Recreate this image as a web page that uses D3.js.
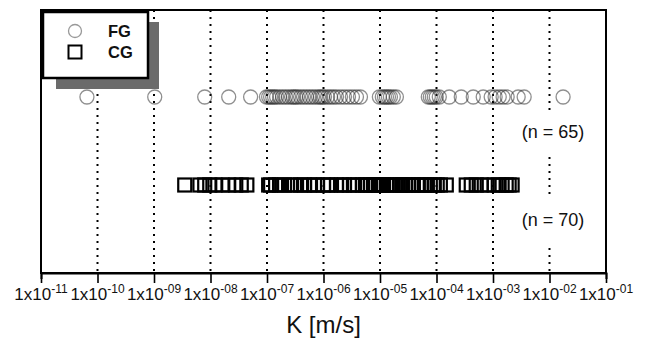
<!DOCTYPE html>
<html>
<head>
<meta charset="utf-8">
<script src="https://cdn.jsdelivr.net/npm/d3@7"></script>
<style>
  body { margin: 0; background: #fff; }
  svg { display: block; font-family: "Liberation Sans", Arial, sans-serif; }
</style>
</head>
<body>
<svg id="chart" width="645" height="347"></svg>
<script>
// Hydraulic conductivity K [m/s] of the two groups
const groups = ["FG", "CG"];
const groupCounts = [65, 70];

const fgValues = [
  6.5e-11, 1.03e-9, 7.9e-9, 2.1e-8, 5.13e-8,
  9.8e-8, 1.07e-7, 1.16e-7, 1.26e-7, 1.36e-7, 1.48e-7, 1.67e-7, 1.89e-7, 2.13e-7, 2.41e-7,
  2.72e-7, 2.95e-7, 3.20e-7, 3.47e-7, 3.93e-7, 4.43e-7, 5.01e-7, 5.66e-7, 6.39e-7, 7.22e-7,
  8.16e-7, 8.86e-7, 9.60e-7, 1.04e-6, 1.18e-6, 1.33e-6, 1.50e-6, 1.70e-6, 2.00e-6, 2.35e-6,
  2.77e-6, 3.25e-6, 3.83e-6, 4.51e-6,
  9.75e-6, 1.10e-5, 1.20e-5, 1.30e-5, 1.41e-5, 1.53e-5, 1.72e-5, 1.95e-5,
  7.16e-5, 7.77e-5, 8.43e-5, 9.14e-5, 9.9e-5, 1.12e-4,
  1.68e-4, 2.74e-4, 4.47e-4, 6.71e-4,
  9.29e-4, 1.09e-3, 1.29e-3, 1.51e-3, 1.78e-3,
  2.79e-3, 3.56e-3, 1.74e-2
];

const cgValues = [
  3.5e-9,
  6.5e-9, 7.9e-9, 9.7e-9, 1.2e-8, 1.6e-8, 2.1e-8, 2.8e-8, 3.5e-8, 4.4e-8,
  1.07e-7, 1.16e-7, 1.42e-7, 1.67e-7, 2.05e-7, 2.61e-7, 3.07e-7, 3.93e-7, 4.62e-7, 5.66e-7,
  6.93e-7, 7.83e-7, 1.0e-6, 1.18e-6, 1.33e-6, 1.70e-6, 2.08e-6, 2.35e-6, 2.88e-6, 3.39e-6,
  3.99e-6, 4.89e-6,
  5.52e-6, 5.99e-6, 6.77e-6, 7.65e-6, 8.29e-6, 9.37e-6, 1.06e-5, 1.15e-5, 1.30e-5, 1.53e-5,
  1.72e-5, 1.95e-5, 2.29e-5, 2.49e-5, 2.81e-5, 3.18e-5, 3.59e-5, 3.89e-5, 4.77e-5, 5.38e-5,
  6.08e-5, 6.61e-5, 7.77e-5, 9.14e-5, 1.03e-4, 1.17e-4, 1.49e-4,
  3.36e-4, 4.12e-4, 5.05e-4, 6.19e-4, 7.90e-4, 1.05e-3, 1.24e-3, 1.45e-3, 1.71e-3, 1.93e-3,
  2.18e-3
];

const decadeValues = [1e-11, 1e-10, 1e-9, 1e-8, 1e-7, 1e-6, 1e-5, 1e-4, 1e-3, 1e-2, 1e-1];
const decadeExponents = ["-11", "-10", "-09", "-08", "-07", "-06", "-05", "-04", "-03", "-02", "-01"];
const axisTitle = "K [m/s]";

const W = 645, H = 347;
const margin = { top: 10, right: 39, bottom: 74, left: 41 };
const plotBottom = H - margin.bottom;

const svg = d3.select("#chart");

const x = d3.scaleLog().domain([1e-11, 1e-1]).range([margin.left, W - margin.right]);
const y = d3.scalePoint().domain(groups).range([97, 185]);

// dotted decade grid lines
svg.append("g")
  .selectAll("line")
  .data(decadeValues.slice(1, -1))
  .join("line")
  .attr("x1", d => x(d)).attr("x2", d => x(d))
  .attr("y1", margin.top).attr("y2", plotBottom)
  .attr("stroke", "#000")
  .attr("stroke-width", 2)
  .attr("stroke-dasharray", "2 5");

// sample count labels on white backing
const nLabels = svg.append("g");
groups.forEach((g, i) => {
  const cy = y(g) + 35;
  nLabels.append("rect")
    .attr("x", 512).attr("y", cy - 22)
    .attr("width", 84).attr("height", 45)
    .attr("fill", "#fff");
  nLabels.append("text")
    .attr("x", 553).attr("y", cy)
    .attr("dy", "0.35em")
    .attr("text-anchor", "middle")
    .attr("font-size", 18)
    .attr("fill", "#111")
    .text(`(n = ${groupCounts[i]})`);
});

// FG: open grey circles
svg.append("g")
  .selectAll("circle")
  .data(fgValues)
  .join("circle")
  .attr("cx", d => x(d))
  .attr("cy", y("FG"))
  .attr("r", 7)
  .attr("fill", "none")
  .attr("stroke", "#333")
  .attr("stroke-opacity", 0.55)
  .attr("stroke-width", 1.3);

// CG: open black squares
const side = 13;
svg.append("g")
  .selectAll("rect")
  .data(cgValues)
  .join("rect")
  .attr("x", d => x(d) - side / 2)
  .attr("y", y("CG") - side / 2)
  .attr("width", side).attr("height", side)
  .attr("fill", "none")
  .attr("stroke", "#000")
  .attr("stroke-width", 2.2);

// legend with drop shadow
const legend = svg.append("g");
legend.append("rect")
  .attr("x", 56).attr("y", 22).attr("width", 103).attr("height", 67)
  .attr("fill", "#6b6b6b");
legend.append("rect")
  .attr("x", 43).attr("y", 12).attr("width", 105).attr("height", 66)
  .attr("fill", "#fff").attr("stroke", "#000").attr("stroke-width", 2.5);
legend.append("circle")
  .attr("cx", 75).attr("cy", 31).attr("r", 6.5)
  .attr("fill", "none").attr("stroke", "#999").attr("stroke-width", 1.3);
legend.append("rect")
  .attr("x", 68.5).attr("y", 45.5).attr("width", 13).attr("height", 13)
  .attr("fill", "none").attr("stroke", "#000").attr("stroke-width", 2);
legend.selectAll("text.lg")
  .data(groups)
  .join("text")
  .attr("class", "lg")
  .attr("x", 108)
  .attr("y", (d, i) => 31 + i * 21)
  .attr("dy", "0.36em")
  .attr("font-size", 16.5)
  .attr("font-weight", "bold")
  .attr("fill", "#111")
  .text(d => d);

// plot frame
svg.append("rect")
  .attr("x", margin.left).attr("y", margin.top)
  .attr("width", W - margin.left - margin.right)
  .attr("height", plotBottom - margin.top)
  .attr("fill", "none").attr("stroke", "#000").attr("stroke-width", 2);

// bottom axis: minor ticks at 2..9, longer ticks at each decade
const allTicks = x.ticks();
const axis = svg.append("g")
  .attr("transform", `translate(0,${plotBottom})`)
  .call(d3.axisBottom(x).tickValues(allTicks).tickSize(6).tickFormat(""));
axis.select(".domain").attr("stroke-width", 2);
axis.selectAll(".tick line")
  .attr("stroke-width", 1.6)
  .attr("y2", d => decadeValues.some(v => Math.abs(Math.log10(v) - Math.log10(d)) < 1e-9) ? 10 : 6);

// decade labels 1x10^n
const labels = svg.append("g")
  .selectAll("text")
  .data(decadeValues)
  .join("text")
  .attr("x", d => x(d))
  .attr("y", 300)
  .attr("text-anchor", "middle")
  .attr("font-size", 17)
  .attr("fill", "#111");
labels.append("tspan").text("1x10");
labels.append("tspan")
  .attr("dy", -7)
  .attr("font-size", 12)
  .text((d, i) => decadeExponents[i]);

svg.append("text")
  .attr("x", (margin.left + W - margin.right) / 2)
  .attr("y", 333)
  .attr("text-anchor", "middle")
  .attr("font-size", 24)
  .attr("fill", "#111")
  .text(axisTitle);
</script>
</body>
</html>
